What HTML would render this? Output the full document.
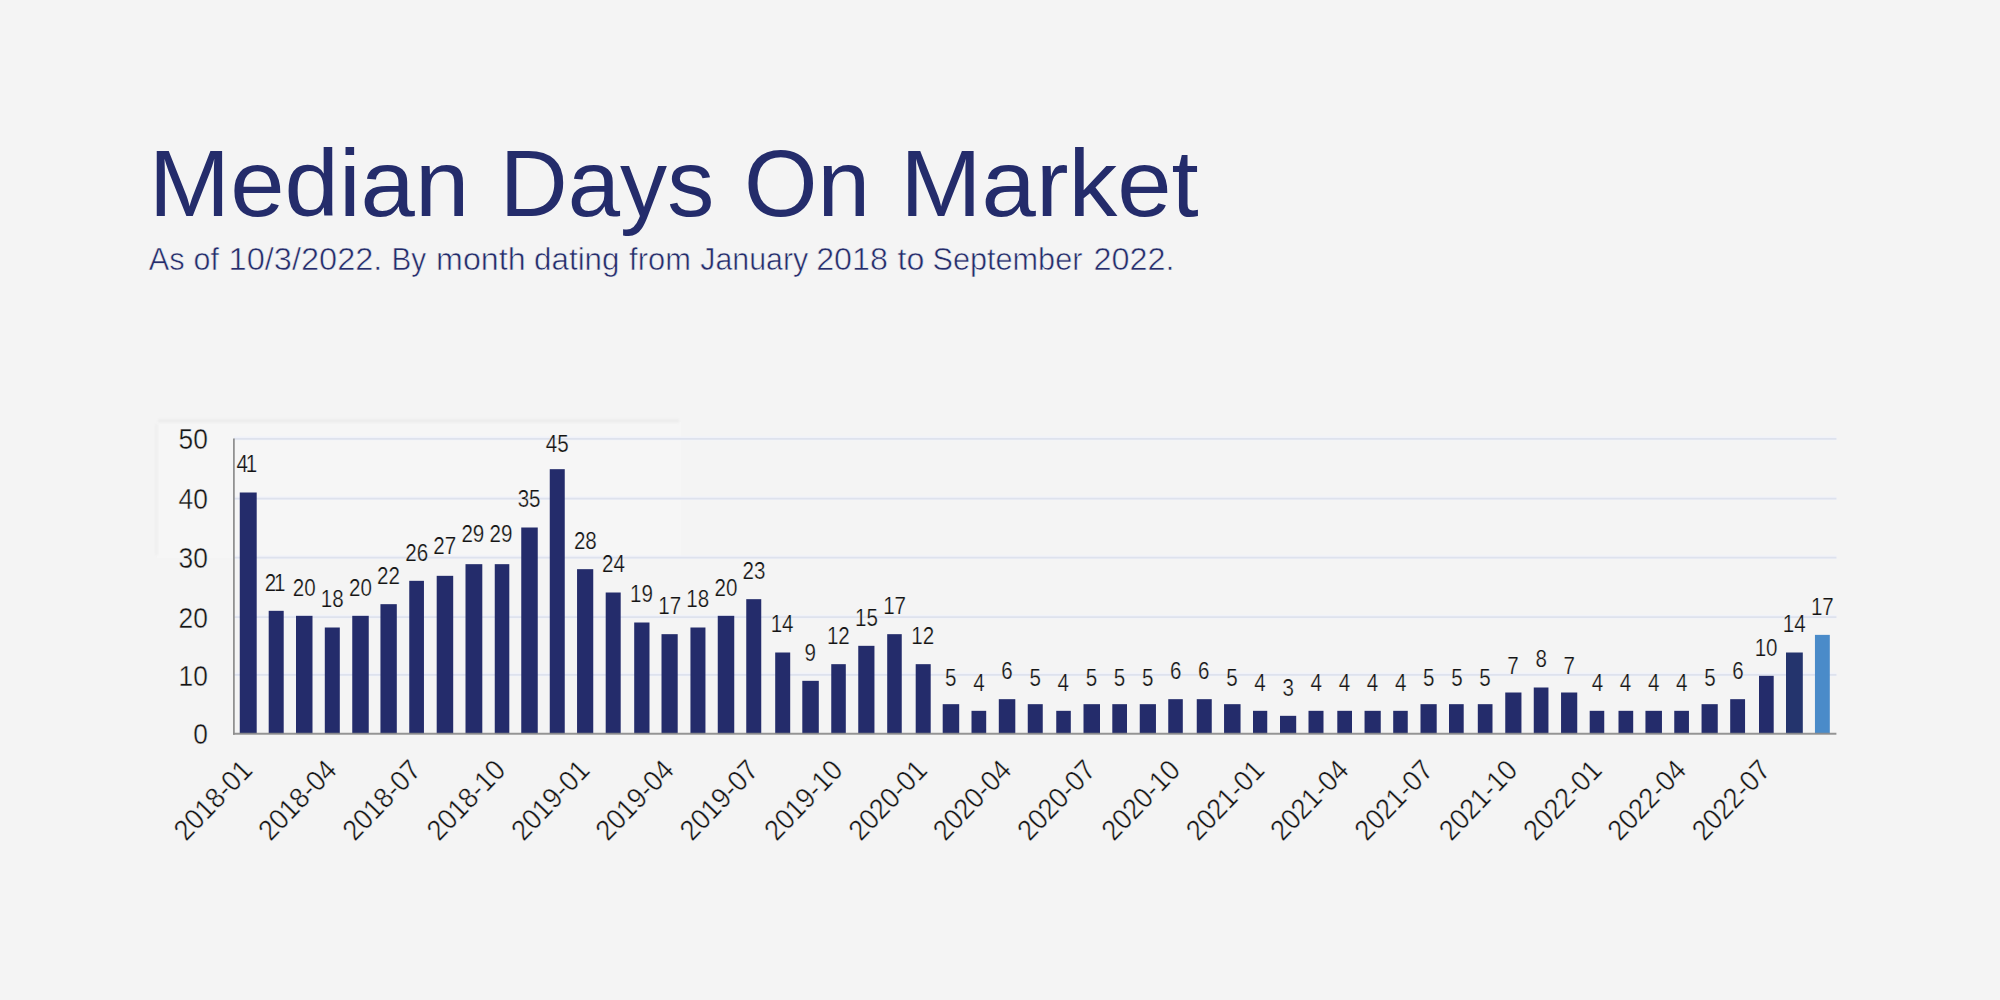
<!DOCTYPE html>
<html lang="en"><head><meta charset="utf-8"><title>Median Days On Market</title>
<style>html,body{margin:0;padding:0;background:#f4f4f4;}body{width:2000px;height:1000px;overflow:hidden;}svg{display:block;}text{font-family:"Liberation Sans",Arial,Helvetica,sans-serif;}</style></head><body>
<svg width="2000" height="1000" viewBox="0 0 2000 1000">
<rect width="2000" height="1000" fill="#f4f4f4"/>
<defs><filter id="soft" x="-5%" y="-50%" width="110%" height="200%"><feGaussianBlur stdDeviation="1.1"/></filter></defs><g id="panel"><rect x="157" y="422" width="524" height="136" fill="#f6f6f6"/><rect x="158" y="419.2" width="521" height="3.4" fill="#ececec" filter="url(#soft)"/><rect x="154.8" y="424" width="3.6" height="131" fill="#efefef" filter="url(#soft)"/></g>
<g id="title"><text y="215.90" font-size="94.90" fill="#242c6b"><tspan x="148.87" textLength="320.42" lengthAdjust="spacingAndGlyphs">Median</tspan> <tspan x="499.86" textLength="214.32" lengthAdjust="spacingAndGlyphs">Days</tspan> <tspan x="743.92" textLength="126.12" lengthAdjust="spacingAndGlyphs">On</tspan> <tspan x="900.25" textLength="298.47" lengthAdjust="spacingAndGlyphs">Market</tspan></text></g>
<g id="subtitle" stroke="#f4f4f4" stroke-width="0.55"><text y="269.80" font-size="31.00" fill="#242c6b"><tspan x="148.71" textLength="35.91" lengthAdjust="spacingAndGlyphs">As</tspan> <tspan x="193.56" textLength="25.33" lengthAdjust="spacingAndGlyphs">of</tspan> <tspan x="228.55" textLength="153.85" lengthAdjust="spacingAndGlyphs">10/3/2022.</tspan> <tspan x="391.57" textLength="34.63" lengthAdjust="spacingAndGlyphs">By</tspan> <tspan x="436.14" textLength="89.50" lengthAdjust="spacingAndGlyphs">month</tspan> <tspan x="534.14" textLength="85.34" lengthAdjust="spacingAndGlyphs">dating</tspan> <tspan x="629.12" textLength="61.78" lengthAdjust="spacingAndGlyphs">from</tspan> <tspan x="700.23" textLength="107.96" lengthAdjust="spacingAndGlyphs">January</tspan> <tspan x="816.15" textLength="71.68" lengthAdjust="spacingAndGlyphs">2018</tspan> <tspan x="897.59" textLength="26.82" lengthAdjust="spacingAndGlyphs">to</tspan> <tspan x="932.49" textLength="149.92" lengthAdjust="spacingAndGlyphs">September</tspan> <tspan x="1093.41" textLength="80.99" lengthAdjust="spacingAndGlyphs">2022.</tspan></text></g>
<g id="grid">
<line x1="233.90" x2="1836.40" y1="674.50" y2="674.50" stroke="#f0f2f9" stroke-width="3.60"/>
<line x1="233.90" x2="1836.40" y1="674.90" y2="674.90" stroke="#dee2ed" stroke-width="1.70"/>
<line x1="233.90" x2="1836.40" y1="616.70" y2="616.70" stroke="#f0f2f9" stroke-width="3.60"/>
<line x1="233.90" x2="1836.40" y1="617.10" y2="617.10" stroke="#dee2ed" stroke-width="1.70"/>
<line x1="233.90" x2="1836.40" y1="557.20" y2="557.20" stroke="#f0f2f9" stroke-width="3.60"/>
<line x1="233.90" x2="1836.40" y1="557.60" y2="557.60" stroke="#dee2ed" stroke-width="1.70"/>
<line x1="233.90" x2="1836.40" y1="498.30" y2="498.30" stroke="#f0f2f9" stroke-width="3.60"/>
<line x1="233.90" x2="1836.40" y1="498.70" y2="498.70" stroke="#dee2ed" stroke-width="1.70"/>
<line x1="233.90" x2="1836.40" y1="438.40" y2="438.40" stroke="#f0f2f9" stroke-width="3.60"/>
<line x1="233.90" x2="1836.40" y1="438.80" y2="438.80" stroke="#dee2ed" stroke-width="1.70"/>
</g><g id="bars">
<rect x="239.75" y="492.50" width="16.95" height="241.30" fill="#242c6b"/>
<rect x="268.70" y="610.83" width="15.00" height="122.97" fill="#242c6b"/>
<rect x="296.00" y="615.83" width="16.50" height="117.97" fill="#242c6b"/>
<rect x="324.80" y="627.50" width="15.00" height="106.30" fill="#242c6b"/>
<rect x="352.25" y="615.83" width="16.50" height="117.97" fill="#242c6b"/>
<rect x="380.45" y="604.17" width="16.35" height="129.63" fill="#242c6b"/>
<rect x="409.25" y="580.83" width="14.70" height="152.97" fill="#242c6b"/>
<rect x="436.70" y="575.83" width="16.50" height="157.97" fill="#242c6b"/>
<rect x="465.50" y="564.17" width="16.80" height="169.63" fill="#242c6b"/>
<rect x="494.75" y="564.17" width="14.55" height="169.63" fill="#242c6b"/>
<rect x="521.25" y="527.50" width="16.50" height="206.30" fill="#242c6b"/>
<rect x="549.75" y="469.17" width="15.00" height="264.63" fill="#242c6b"/>
<rect x="577.05" y="569.17" width="16.20" height="164.63" fill="#242c6b"/>
<rect x="605.70" y="592.50" width="15.00" height="141.30" fill="#242c6b"/>
<rect x="634.20" y="622.50" width="15.30" height="111.30" fill="#242c6b"/>
<rect x="661.50" y="634.17" width="16.20" height="99.63" fill="#242c6b"/>
<rect x="690.45" y="627.50" width="15.00" height="106.30" fill="#242c6b"/>
<rect x="717.75" y="615.83" width="16.50" height="117.97" fill="#242c6b"/>
<rect x="746.25" y="599.17" width="15.00" height="134.63" fill="#242c6b"/>
<rect x="775.20" y="652.50" width="15.00" height="81.30" fill="#242c6b"/>
<rect x="802.30" y="680.83" width="16.50" height="52.97" fill="#242c6b"/>
<rect x="831.25" y="664.17" width="14.55" height="69.63" fill="#242c6b"/>
<rect x="858.25" y="645.83" width="16.20" height="87.97" fill="#242c6b"/>
<rect x="887.20" y="634.17" width="14.55" height="99.63" fill="#242c6b"/>
<rect x="915.70" y="664.17" width="15.00" height="69.63" fill="#242c6b"/>
<rect x="942.70" y="704.17" width="16.50" height="29.63" fill="#242c6b"/>
<rect x="971.50" y="710.83" width="14.70" height="22.97" fill="#242c6b"/>
<rect x="998.80" y="699.17" width="16.50" height="34.63" fill="#242c6b"/>
<rect x="1027.75" y="704.17" width="15.00" height="29.63" fill="#242c6b"/>
<rect x="1056.25" y="710.83" width="14.55" height="22.97" fill="#242c6b"/>
<rect x="1083.50" y="704.17" width="16.50" height="29.63" fill="#242c6b"/>
<rect x="1112.30" y="704.17" width="14.70" height="29.63" fill="#242c6b"/>
<rect x="1139.75" y="704.17" width="16.20" height="29.63" fill="#242c6b"/>
<rect x="1168.25" y="699.17" width="14.55" height="34.63" fill="#242c6b"/>
<rect x="1196.75" y="699.17" width="15.00" height="34.63" fill="#242c6b"/>
<rect x="1224.05" y="704.17" width="16.50" height="29.63" fill="#242c6b"/>
<rect x="1253.00" y="710.83" width="14.25" height="22.97" fill="#242c6b"/>
<rect x="1280.00" y="715.83" width="16.20" height="17.97" fill="#242c6b"/>
<rect x="1308.50" y="710.83" width="15.00" height="22.97" fill="#242c6b"/>
<rect x="1337.30" y="710.83" width="14.70" height="22.97" fill="#242c6b"/>
<rect x="1364.55" y="710.83" width="16.20" height="22.97" fill="#242c6b"/>
<rect x="1393.20" y="710.83" width="14.55" height="22.97" fill="#242c6b"/>
<rect x="1420.50" y="704.17" width="16.20" height="29.63" fill="#242c6b"/>
<rect x="1449.00" y="704.17" width="14.70" height="29.63" fill="#242c6b"/>
<rect x="1477.80" y="704.17" width="14.70" height="29.63" fill="#242c6b"/>
<rect x="1505.25" y="692.50" width="16.20" height="41.30" fill="#242c6b"/>
<rect x="1533.75" y="687.50" width="14.70" height="46.30" fill="#242c6b"/>
<rect x="1561.05" y="692.50" width="16.20" height="41.30" fill="#242c6b"/>
<rect x="1589.70" y="710.83" width="14.55" height="22.97" fill="#242c6b"/>
<rect x="1618.50" y="710.83" width="14.70" height="22.97" fill="#242c6b"/>
<rect x="1645.45" y="710.83" width="16.50" height="22.97" fill="#242c6b"/>
<rect x="1674.25" y="710.83" width="14.70" height="22.97" fill="#242c6b"/>
<rect x="1701.55" y="704.17" width="16.20" height="29.63" fill="#242c6b"/>
<rect x="1730.20" y="699.17" width="14.85" height="34.63" fill="#242c6b"/>
<rect x="1759.00" y="675.83" width="14.70" height="57.97" fill="#242c6b"/>
<rect x="1786.00" y="652.50" width="16.80" height="81.30" fill="#24346d"/>
<rect x="1814.95" y="634.87" width="14.85" height="98.93" fill="#4a8bc9"/>
</g><g id="axes">
<line x1="233.90" x2="233.90" y1="438.50" y2="734.70" stroke="#8c8c8c" stroke-width="1.7"/>
<line x1="233.05" x2="1836.40" y1="733.80" y2="733.80" stroke="#8c8c8c" stroke-width="1.9" opacity="0.92"/>
</g><g id="values" fill="#141414" text-anchor="middle" font-size="24.80" stroke="#f4f4f4" stroke-width="0.25">
<text transform="translate(246.86 472.30) scale(0.830 1)">4<tspan dx="-2.65">1</tspan></text>
<text transform="translate(274.97 590.63) scale(0.830 1)">2<tspan dx="-2.65">1</tspan></text>
<text transform="translate(304.19 595.63) scale(0.830 1)">20</text>
<text transform="translate(332.30 607.30) scale(0.830 1)">18</text>
<text transform="translate(360.41 595.63) scale(0.830 1)">20</text>
<text transform="translate(388.53 583.97) scale(0.830 1)">22</text>
<text transform="translate(416.64 560.63) scale(0.830 1)">26</text>
<text transform="translate(444.76 553.97) scale(0.830 1)">27</text>
<text transform="translate(472.87 542.30) scale(0.830 1)">29</text>
<text transform="translate(500.98 542.30) scale(0.830 1)">29</text>
<text transform="translate(529.10 507.30) scale(0.830 1)">35</text>
<text transform="translate(557.21 452.00) scale(0.830 1)">45</text>
<text transform="translate(585.33 548.97) scale(0.830 1)">28</text>
<text transform="translate(613.44 572.30) scale(0.830 1)">24</text>
<text transform="translate(641.55 602.30) scale(0.830 1)">19</text>
<text transform="translate(669.67 613.97) scale(0.830 1)">17</text>
<text transform="translate(697.78 607.30) scale(0.830 1)">18</text>
<text transform="translate(725.90 595.63) scale(0.830 1)">20</text>
<text transform="translate(754.01 578.97) scale(0.830 1)">23</text>
<text transform="translate(782.12 632.30) scale(0.830 1)">14</text>
<text transform="translate(810.24 660.63) scale(0.830 1)">9</text>
<text transform="translate(838.35 643.97) scale(0.830 1)">12</text>
<text transform="translate(866.47 625.63) scale(0.830 1)">15</text>
<text transform="translate(894.58 613.97) scale(0.830 1)">17</text>
<text transform="translate(922.69 643.97) scale(0.830 1)">12</text>
<text transform="translate(950.81 685.63) scale(0.830 1)">5</text>
<text transform="translate(978.92 690.63) scale(0.830 1)">4</text>
<text transform="translate(1007.04 678.97) scale(0.830 1)">6</text>
<text transform="translate(1035.15 685.63) scale(0.830 1)">5</text>
<text transform="translate(1063.26 690.63) scale(0.830 1)">4</text>
<text transform="translate(1091.38 685.63) scale(0.830 1)">5</text>
<text transform="translate(1119.49 685.63) scale(0.830 1)">5</text>
<text transform="translate(1147.61 685.63) scale(0.830 1)">5</text>
<text transform="translate(1175.72 678.97) scale(0.830 1)">6</text>
<text transform="translate(1203.83 678.97) scale(0.830 1)">6</text>
<text transform="translate(1231.95 685.63) scale(0.830 1)">5</text>
<text transform="translate(1260.06 690.63) scale(0.830 1)">4</text>
<text transform="translate(1288.18 695.63) scale(0.830 1)">3</text>
<text transform="translate(1316.29 690.63) scale(0.830 1)">4</text>
<text transform="translate(1344.40 690.63) scale(0.830 1)">4</text>
<text transform="translate(1372.52 690.63) scale(0.830 1)">4</text>
<text transform="translate(1400.63 690.63) scale(0.830 1)">4</text>
<text transform="translate(1428.75 685.63) scale(0.830 1)">5</text>
<text transform="translate(1456.86 685.63) scale(0.830 1)">5</text>
<text transform="translate(1484.97 685.63) scale(0.830 1)">5</text>
<text transform="translate(1513.09 673.97) scale(0.830 1)">7</text>
<text transform="translate(1541.20 667.30) scale(0.830 1)">8</text>
<text transform="translate(1569.32 673.97) scale(0.830 1)">7</text>
<text transform="translate(1597.43 690.63) scale(0.830 1)">4</text>
<text transform="translate(1625.54 690.63) scale(0.830 1)">4</text>
<text transform="translate(1653.66 690.63) scale(0.830 1)">4</text>
<text transform="translate(1681.77 690.63) scale(0.830 1)">4</text>
<text transform="translate(1709.89 685.63) scale(0.830 1)">5</text>
<text transform="translate(1738.00 678.97) scale(0.830 1)">6</text>
<text transform="translate(1766.11 655.63) scale(0.830 1)">10</text>
<text transform="translate(1794.23 632.30) scale(0.830 1)">14</text>
<text transform="translate(1822.34 614.77) scale(0.830 1)">17</text>
</g><g id="yaxis" fill="#141414" text-anchor="end" font-size="28.80" stroke="#f4f4f4" stroke-width="0.40">
<text transform="translate(207.90 744.40) scale(0.915 1)">0</text>
<text transform="translate(207.90 685.50) scale(0.915 1)">10</text>
<text transform="translate(207.90 627.70) scale(0.915 1)">20</text>
<text transform="translate(207.90 568.20) scale(0.915 1)">30</text>
<text transform="translate(207.90 509.30) scale(0.915 1)">40</text>
<text transform="translate(207.90 449.40) scale(0.915 1)">50</text>
</g><g id="xaxis" fill="#141414" text-anchor="end" font-size="28.80" stroke="#f4f4f4" stroke-width="0.40">
<text transform="translate(253.96 771.70) rotate(-46.00) scale(0.925 1)">2018-01</text>
<text transform="translate(338.30 771.70) rotate(-46.00) scale(0.925 1)">2018-04</text>
<text transform="translate(422.64 771.70) rotate(-46.00) scale(0.925 1)">2018-07</text>
<text transform="translate(506.98 771.70) rotate(-46.00) scale(0.925 1)">2018-10</text>
<text transform="translate(591.33 771.70) rotate(-46.00) scale(0.925 1)">2019-01</text>
<text transform="translate(675.67 771.70) rotate(-46.00) scale(0.925 1)">2019-04</text>
<text transform="translate(760.01 771.70) rotate(-46.00) scale(0.925 1)">2019-07</text>
<text transform="translate(844.35 771.70) rotate(-46.00) scale(0.925 1)">2019-10</text>
<text transform="translate(928.69 771.70) rotate(-46.00) scale(0.925 1)">2020-01</text>
<text transform="translate(1013.04 771.70) rotate(-46.00) scale(0.925 1)">2020-04</text>
<text transform="translate(1097.38 771.70) rotate(-46.00) scale(0.925 1)">2020-07</text>
<text transform="translate(1181.72 771.70) rotate(-46.00) scale(0.925 1)">2020-10</text>
<text transform="translate(1266.06 771.70) rotate(-46.00) scale(0.925 1)">2021-01</text>
<text transform="translate(1350.40 771.70) rotate(-46.00) scale(0.925 1)">2021-04</text>
<text transform="translate(1434.75 771.70) rotate(-46.00) scale(0.925 1)">2021-07</text>
<text transform="translate(1519.09 771.70) rotate(-46.00) scale(0.925 1)">2021-10</text>
<text transform="translate(1603.43 771.70) rotate(-46.00) scale(0.925 1)">2022-01</text>
<text transform="translate(1687.77 771.70) rotate(-46.00) scale(0.925 1)">2022-04</text>
<text transform="translate(1772.11 771.70) rotate(-46.00) scale(0.925 1)">2022-07</text>
</g></svg></body></html>
